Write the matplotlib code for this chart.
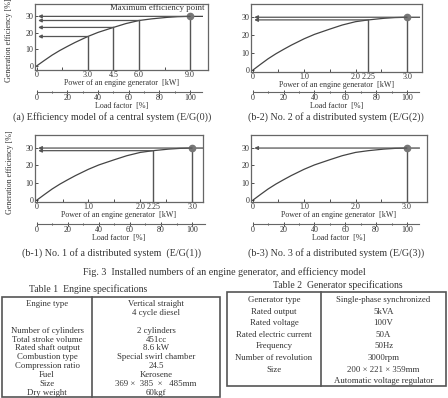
import matplotlib
matplotlib.use("Agg")
from matplotlib import pyplot as plt
from matplotlib.patches import Rectangle
from matplotlib.lines import Line2D

W, H = 448, 398
plt.rcParams['font.family'] = ['Liberation Serif', 'DejaVu Serif']
TXT = '#333333'
LN = '#555555'

# efficiency model (load factor [%], efficiency [%])
load_factor = [0, 5, 10, 15, 20, 25, 33.3, 40, 50, 58, 66.7, 75, 85, 92, 100, 108]
efficiency = [0, 3.3, 6.5, 9.3, 11.8, 14.2, 17.8, 20.3, 23.3, 25.6, 27.5, 28.5, 29.4, 29.8, 30.0, 30.0]

# marked operating points per panel (kW, efficiency)
a_kw = [3.0, 4.5, 6.0, 9.0]
a_eff = [17.8, 23.3, 27.5, 30.0]
b_kw = [2.25, 3.0]
b_eff = [28.5, 30.0]
b3_kw = [3.0]
b3_eff = [30.0]

a_ticks = [0, 1.5, 3.0, 4.5, 6.0, 7.5, 9.0]
a_labels = ['0', '', '3.0', '4.5', '6.0', '', '9.0']
b_ticks = [0, 0.5, 1.0, 1.5, 2.0, 2.25, 2.5, 3.0]
b_labels = ['0', '', '1.0', '', '2.0', '2.25', '', '3.0']
b3_ticks = [0, 0.5, 1.0, 1.5, 2.0, 2.5, 3.0]
b3_labels = ['0', '', '1.0', '', '2.0', '', '3.0']

captions = ['(a) Efficiency model of a central system (E/G(0))',
            '(b-2) No. 2 of a distributed system (E/G(2))',
            '(b-1) No. 1 of a distributed system  (E/G(1))',
            '(b-3) No. 3 of a distributed system (E/G(3))']

t1_left = ['Engine type', '', '', 'Number of cylinders', 'Total stroke volume',
           'Rated shaft output', 'Combustion type', 'Compression ratio',
           'Fuel', 'Size', 'Dry weight']
t1_right = ['Vertical straight', '4 cycle diesel', '', '2 cylinders', '451cc',
            '8.6 kW', 'Special swirl chamber', '24.5', 'Kerosene',
            '369 \u00d7  385  \u00d7   485mm', '60kgf']
t2_left = ['Generator type', 'Rated output', 'Rated voltage', 'Rated electric current',
           'Frequency', 'Number of revolution', 'Size', '']
t2_right = ['Single-phase synchronized', '5kVA', '100V', '50A', '50Hz', '3000rpm',
            '200 \u00d7 221 \u00d7 359mm', 'Automatic voltage regulator']


def rect(l, t, r, b):
    return [l / W, 1 - b / H, (r - l) / W, (b - t) / H]


def panel(box, rated, kws, effs, ticks, labels, xmax, ylabel, load_px, arrow_x, ymin=-1):
    ax = fig.add_axes(rect(*box))
    kw = [lf / 100 * rated for lf in load_factor]
    ax.plot(kw, efficiency, color='#444444', lw=0.9)
    for k, e in zip(kws, effs):
        ax.plot([k, k], [ymin, e], color=LN, lw=1.0)
        ax.annotate('', xy=(arrow_x, e), xytext=(k, e),
                    arrowprops=dict(arrowstyle='-|>', color=LN, lw=0.9,
                                    mutation_scale=5, shrinkA=0, shrinkB=0))
    ax.plot([rated], [30], 'o', color='#777777', ms=4.5)
    ax.set_xlim(-0.01 * xmax, xmax)
    ax.set_ylim(ymin, 37.5)
    ax.set_xticks(ticks)
    ax.set_xticklabels(labels)
    ax.set_yticks([0, 10, 20, 30])
    ax.tick_params(direction='in', length=2, width=0.6, labelsize=5.8,
                   pad=1, colors=TXT)
    for s in ax.spines.values():
        s.set_color('#666666')
        s.set_linewidth(0.9)
    ax.set_xlabel('Power of an engine generator  [kW]', fontsize=5.8,
                  labelpad=0, color=TXT)
    if ylabel:
        ax.set_ylabel('Generation efficiency [%]', fontsize=5.8, color=TXT)
        ax.yaxis.set_label_coords(-0.125, 0.45)
    loc = -(load_px - box[3]) / (box[3] - box[1])
    sec = ax.secondary_xaxis(loc, functions=(lambda x: x / rated * 100,
                                             lambda x: x * rated / 100))
    sec.set_xticks([0, 20, 40, 60, 80, 100])
    sec.set_xticks([10, 30, 50, 70, 90], minor=True)
    sec.spines['bottom'].set_bounds(0, 108)
    sec.spines['bottom'].set_color('#666666')
    sec.tick_params(direction='inout', length=3, width=0.6, labelsize=5.8,
                    pad=0, colors=TXT)
    sec.tick_params(which='minor', direction='inout', length=2, width=0.5)
    sec.set_xlabel('Load factor  [%]', fontsize=5.8, labelpad=0, color=TXT)
    return ax


fig = plt.figure(figsize=(W / 100, H / 100), dpi=100)

ax_a = panel((35, 4, 208, 70), 9.0, a_kw, a_eff, a_ticks, a_labels, 10.05,
             True, 92, 0.08, ymin=-2.5)
ax_a.text(9.85, 35.3, 'Maximum efficiency point', fontsize=6.3, ha='right',
          va='center', color=TXT)
panel((251, 4, 422, 72), 3.0, b_kw, b_eff, b_ticks, b_labels, 3.29,
      False, 92, 0.03)
panel((35, 135, 203, 202), 3.0, b_kw, b_eff, b_ticks, b_labels, 3.21,
      True, 224, 0.03)
panel((251, 135, 427, 202), 3.0, b3_kw, b3_eff, b3_ticks, b3_labels, 3.39,
      False, 224, 0.03)

for (cx, cy), cap in zip([(112, 117), (336, 117), (112, 253), (336, 253)], captions):
    fig.text(cx / W, 1 - cy / H, cap, fontsize=7.2, ha='center', va='center', color=TXT)
fig.text(224 / W, 1 - 272 / H, 'Fig. 3  Installed numbers of an engine generator, and efficiency model',
         fontsize=7.2, ha='center', va='center', color=TXT)

fig.text(88 / W, 1 - 289 / H, 'Table 1  Engine specifications', fontsize=7.0,
         ha='center', va='center', color=TXT)
fig.text(338 / W, 1 - 285 / H, 'Table 2  Generator specifications', fontsize=7.0,
         ha='center', va='center', color=TXT)


def table(l, t, r, b, div, left, right, y0, dy):
    fig.add_artist(Rectangle((l / W, 1 - b / H), (r - l) / W, (b - t) / H,
                             transform=fig.transFigure, fill=False,
                             ec='#555555', lw=1.2))
    fig.add_artist(Line2D([div / W, div / W], [1 - t / H, 1 - b / H],
                          transform=fig.transFigure, color='#555555', lw=1.2))
    for i, (lt, rt) in enumerate(zip(left, right)):
        y = 1 - (y0 + i * dy) / H
        fig.text((l + div) / 2 / W, y, lt, fontsize=6.3, ha='center', va='center', color=TXT)
        fig.text((div + r) / 2 / W, y, rt, fontsize=6.3, ha='center', va='center', color=TXT)


table(2, 297, 220, 397, 92, t1_left, t1_right, 304, 8.9)
table(227, 292, 446, 386, 321, t2_left, t2_right, 300, 11.6)

fig.savefig('out.png', dpi=100)
